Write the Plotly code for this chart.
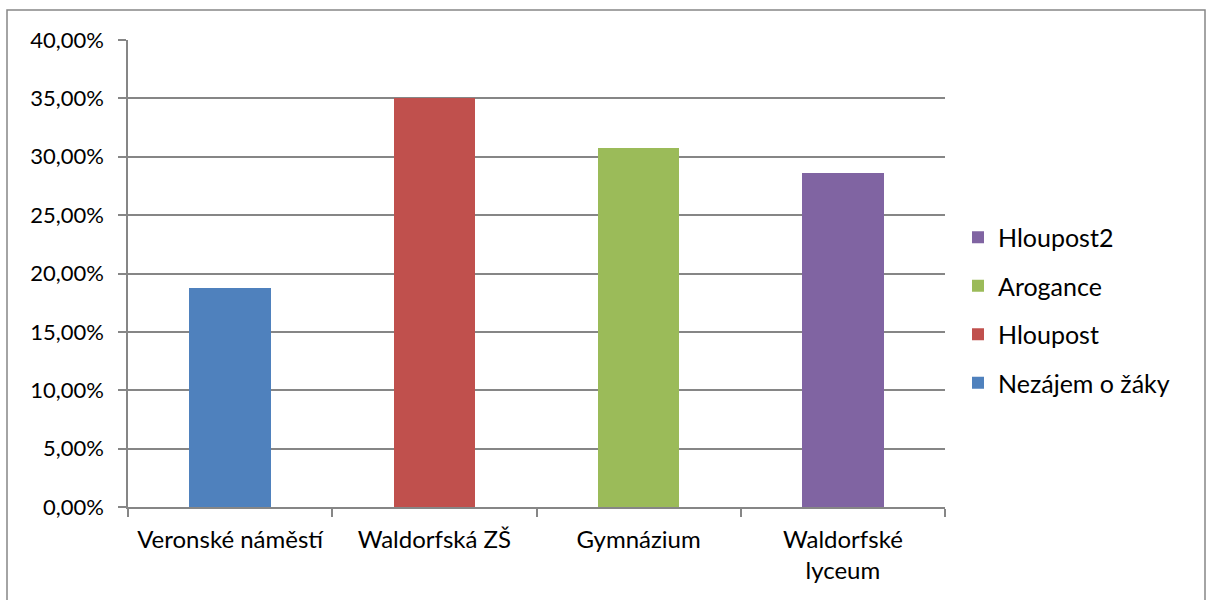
import plotly.graph_objects as go

categories = ["Veronské náměstí", "Waldorfská ZŠ", "Gymnázium", "Waldorfské<br>lyceum"]
series_names = ["Nezájem o žáky", "Hloupost", "Arogance", "Hloupost2"]
values = [18.75, 35.00, 30.77, 28.57]
colors = ["#4F81BD", "#C0504D", "#9BBB59", "#8064A2"]
y_ticks = [0, 5, 10, 15, 20, 25, 30, 35, 40]
y_tick_labels = ["0,00%", "5,00%", "10,00%", "15,00%", "20,00%", "25,00%", "30,00%", "35,00%", "40,00%"]

FONT = "Lato"
W, H = 1208, 600
L, R, T, B = 128, 263, 40, 93
PW, PH = W - L - R, H - T - B

fig = go.Figure()
n = len(series_names)
for i, name in enumerate(series_names):
    yv = [values[j] if j == i else None for j in range(len(categories))]
    fig.add_trace(go.Bar(x=categories, y=yv, name=name, marker_color=colors[i],
                         marker_line_width=0, width=0.4, legendgroup=name,
                         legendrank=n - i))

fig.update_layout(
    width=W, height=H,
    margin=dict(l=L, r=R, t=T, b=B),
    paper_bgcolor="white", plot_bgcolor="white",
    barmode="stack",
    font=dict(family=FONT, size=22, color="#000000"),
    showlegend=True,
    legend=dict(traceorder="grouped", x=(958 - L) / PW, xanchor="left",
                y=(H - B - 310) / PH, yanchor="middle",
                font=dict(family=FONT, size=25), itemwidth=30, tracegroupgap=13,
                bgcolor="rgba(0,0,0,0)"),
    xaxis=dict(type="category", showline=True, linecolor="#868686", linewidth=1.5,
               ticks="outside", tickson="boundaries", ticklen=8, tickcolor="#868686",
               tickwidth=1.5, showgrid=False, ticklabelstandoff=10,
               tickfont=dict(family=FONT, size=24)),
    yaxis=dict(range=[0, 40], tickvals=y_ticks, ticktext=y_tick_labels,
               showline=True, linecolor="#868686", linewidth=1.5,
               ticks="outside", ticklen=8, tickcolor="#868686", tickwidth=1.5,
               showgrid=True, gridcolor="#868686", gridwidth=1.5, zeroline=False,
               ticklabelstandoff=10,
               tickfont=dict(family=FONT, size=22)),
    shapes=[dict(type="rect", xref="paper", yref="paper",
                 x0=(7 - L) / PW, x1=(1205 - L) / PW,
                 y0=(H - B - 603) / PH, y1=(H - B - 10) / PH,
                 line=dict(color="#868686", width=1.5), layer="below")],
)

fig.write_html("out.html", config={"displayModeBar": False},
               post_script="document.body.style.margin='0';document.body.style.padding='0';")
